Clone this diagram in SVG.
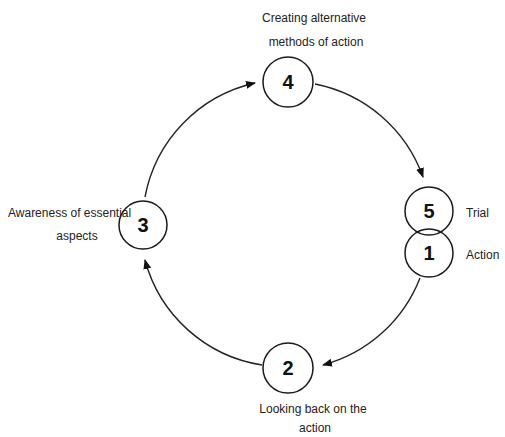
<svg xmlns="http://www.w3.org/2000/svg" width="505" height="437" viewBox="0 0 505 437">
<style>
.node{fill:none;stroke:#1a1a1a;stroke-width:1.5}
.num{font-family:"Liberation Sans",Arial,sans-serif;font-size:20px;font-weight:bold;fill:#111;text-anchor:middle}
.lbl{font-family:"Liberation Sans",Arial,sans-serif;font-size:12px;fill:#222}
.mid{text-anchor:middle}
.arc{fill:none;stroke:#222;stroke-width:1.4;marker-end:url(#ah)}
</style>
<defs>
<marker id="ah" markerUnits="userSpaceOnUse" markerWidth="10" markerHeight="8" refX="9" refY="4" orient="auto">
<path d="M0,0 L10,4 L0,8 Z" fill="#111"/>
</marker>
</defs>
<rect width="505" height="437" fill="#fff"/>
<g id="connectors">
<path class="arc" d="M315,84 A144,144 0 0 1 423,177"/>
<path class="arc" d="M420,278 A144,144 0 0 1 323,365"/>
<path class="arc" d="M262,365 A144,144 0 0 1 145,260"/>
<path class="arc" d="M145,197 A144,144 0 0 1 255,83"/>
</g>
<g id="node4">
<circle class="node" cx="288" cy="82" r="25"/>
<text class="num" x="288" y="89">4</text>
<text class="lbl mid" x="314" y="22">Creating alternative</text>
<text class="lbl mid" x="316" y="46">methods of action</text>
</g>
<g id="node5">
<circle class="node" cx="429" cy="211" r="24"/>
<text class="num" x="429" y="218">5</text>
<text class="lbl" x="466" y="217">Trial</text>
</g>
<g id="node1">
<circle class="node" cx="429" cy="253" r="24"/>
<text class="num" x="429" y="260">1</text>
<text class="lbl" x="466" y="259">Action</text>
</g>
<g id="node3">
<circle class="node" cx="143" cy="225" r="24"/>
<text class="num" x="143" y="232">3</text>
<text class="lbl" x="8" y="217">Awareness of essential</text>
<text class="lbl mid" x="77" y="240">aspects</text>
</g>
<g id="node2">
<circle class="node" cx="288" cy="368" r="25"/>
<text class="num" x="288" y="375">2</text>
<text class="lbl mid" x="313" y="413">Looking back on the</text>
<text class="lbl mid" x="315" y="432">action</text>
</g>
</svg>
